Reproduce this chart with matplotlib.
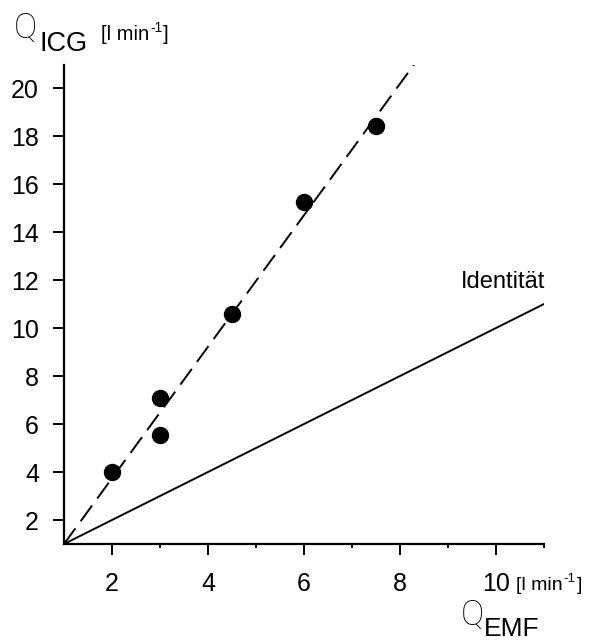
import matplotlib
matplotlib.use("Agg")
import matplotlib.pyplot as plt
import numpy as np

# Cardiac output: EMF reference vs. ICG dilution
q_emf = [2.0, 3.0, 3.0, 4.5, 6.0, 7.5]
q_icg = [4.0, 7.1, 5.55, 10.6, 15.25, 18.4]

# Regression line (dashed) and identity line
fit_slope = 2.74
fit_intercept = -1.74
fit_x_range = [1.0, 8.3]
identity_range = [1.0, 11.0]

x_major = [2, 4, 6, 8, 10]
x_minor = [3, 5, 7, 9, 11]
y_major = [2, 4, 6, 8, 10, 12, 14, 16, 18, 20]

plt.rcParams['font.family'] = ['Liberation Sans', 'DejaVu Sans']
THIN = ['Roboto', 'DejaVu Sans']

W, H = 589, 641
fig = plt.figure(figsize=(W / 100, H / 100), dpi=100)
ax = fig.add_axes([64 / W, 97 / H, 480 / W, 479 / H])

ax.set_xlim(1, 11)
ax.set_ylim(1, 20.96)

fx = np.array(fit_x_range)
ax.plot(fx, fit_intercept + fit_slope * fx, color='black', lw=1.4,
        dashes=(10, 4.5), zorder=2)
ax.plot(identity_range, identity_range, color='black', lw=1.4, zorder=2)
ax.plot(q_emf, q_icg, 'o', color='black', ms=11.5, zorder=3)

for side in ('top', 'right'):
    ax.spines[side].set_visible(False)
for side in ('left', 'bottom'):
    ax.spines[side].set_linewidth(1.6)

ax.set_xticks(x_major)
ax.set_xticks(x_minor, minor=True)
ax.set_yticks(y_major)
ax.set_xticklabels([str(v) for v in x_major])
ax.set_yticklabels([str(v) for v in y_major])
ax.tick_params(axis='both', which='major', direction='out', length=8,
               width=1.4, labelsize=18)
ax.tick_params(axis='x', which='major', pad=12)
ax.tick_params(axis='y', which='major', pad=10)
ax.tick_params(axis='x', which='minor', direction='out', length=3,
               width=1.4)

ax.text(9.27, 11.67, 'Identität', fontsize=17, ha='left', va='baseline')

renderer = fig.canvas.get_renderer()


def px(x, y):
    """Pixel position (from top-left) to figure fraction."""
    return x / W, 1 - y / H


def unit_label(x0, base, size=14.5):
    """'[l min^-1]' built from pieces, each placed after the previous one."""
    pieces = [('[l min', size, 0), ('-1', size * 0.68, 8), (']', size, 0)]
    x = x0
    for txt, fs, rise in pieces:
        t = fig.text(*px(x, base - rise), txt, fontsize=fs, ha='left',
                     va='baseline')
        bb = t.get_window_extent(renderer)
        x += bb.width + 1


# Axis titles
fig.text(*px(14, 38), 'Q', fontsize=25, family=THIN, fontweight='light',
         ha='left', va='baseline')
fig.text(*px(39, 51), 'ICG', fontsize=19.5, ha='left', va='baseline')
unit_label(101, 40)

unit_label(516, 590, size=14)
fig.text(*px(461, 625), 'Q', fontsize=25, family=THIN, fontweight='light',
         ha='left', va='baseline')
fig.text(*px(484, 636), 'EMF', fontsize=19, ha='left', va='baseline')

fig.savefig('out.png', dpi=100)
